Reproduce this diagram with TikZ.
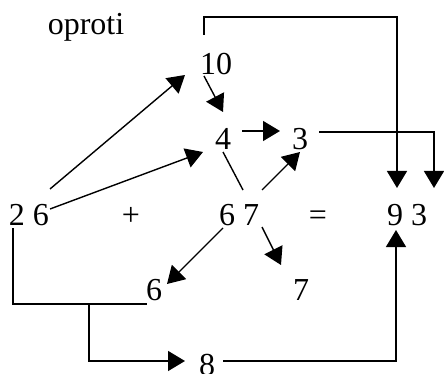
\documentclass[tikz,border=0pt]{standalone}
\usepackage{fontspec}
\setmainfont{Liberation Serif}
\usetikzlibrary{arrows.meta,calc}
\tikzset{
  lbl/.style={anchor=base,inner sep=0pt,font=\fontsize{32}{38}\selectfont},
  conn/.style={line width=1.4pt},
  arr/.style={conn,-{Triangle[length=17pt,width=20pt]}}
}
\begin{document}
\begin{tikzpicture}[x=1pt,y=-1pt]
\useasboundingbox (0,0) rectangle (444,374);
% texts
\node[lbl] (op) at (86,35) {oproti};
\node[lbl] (n10) at (216,75) {10};
\node[lbl] (n4) at (223,150) {4};
\node[lbl] (n3) at (300,150) {3};
\node[lbl] (n26) at (29,225) {2 6};
\node[lbl] (plus) at (131,225) {+};
\node[lbl] (n67) at (239,225) {6 7};
\node[lbl] (eq) at (318,225) {=};
\node[lbl] (n93) at (407,225) {9 3};
\node[lbl] (n6) at (154,300) {6};
\node[lbl] (n7) at (301,300) {7};
\node[lbl] (n8) at (207,375) {8};
% connectors
\draw[arr] ($(n26.base)+(21,-36)$) -- ($(n10.base)+(-31,0)$);
\draw[arr] ($(n26.base)+(21,-16)$) -- ($(n4.base)+(-20,2)$);
\draw[arr] ($(n10.base)+(-12,1)$) -- ($(n4.base)+(0,-38)$);
\draw[arr] ($(n4.base)+(19,-19)$) -- ($(n3.base)+(-20,-19)$);
\draw[conn] ($(n4.base)+(0,2)$) -- ($(n67.base)+(4,-35)$);
\draw[arr] ($(n67.base)+(23,-35)$) -- ($(n3.base)+(0,2)$);
\draw[arr] ($(n67.base)+(-16,3)$) -- ($(n6.base)+(13,-16)$);
\draw[arr] ($(n67.base)+(23,2)$) -- ($(n7.base)+(-20,-35)$);
\draw[arr] ($(n3.base)+(19,-18)$) -| ($(n93.base)+(27,-37)$);
\draw[arr] ($(n10.base)+(-12,-40)$) -- ++(0,-18) -| ($(n93.base)+(-10,-37)$);
\draw[conn] ($(n26.base)+(-16,3)$) |- ($(n6.base)+(-7,4)$);
\coordinate (mid) at ($(n26.base)+(60,79)$);
\draw[arr] (mid) |- ($(n8.base)+(-22,-14)$);
\draw[arr] ($(n8.base)+(16,-14)$) -| ($(n93.base)+(-11,5)$);
\end{tikzpicture}
\end{document}
